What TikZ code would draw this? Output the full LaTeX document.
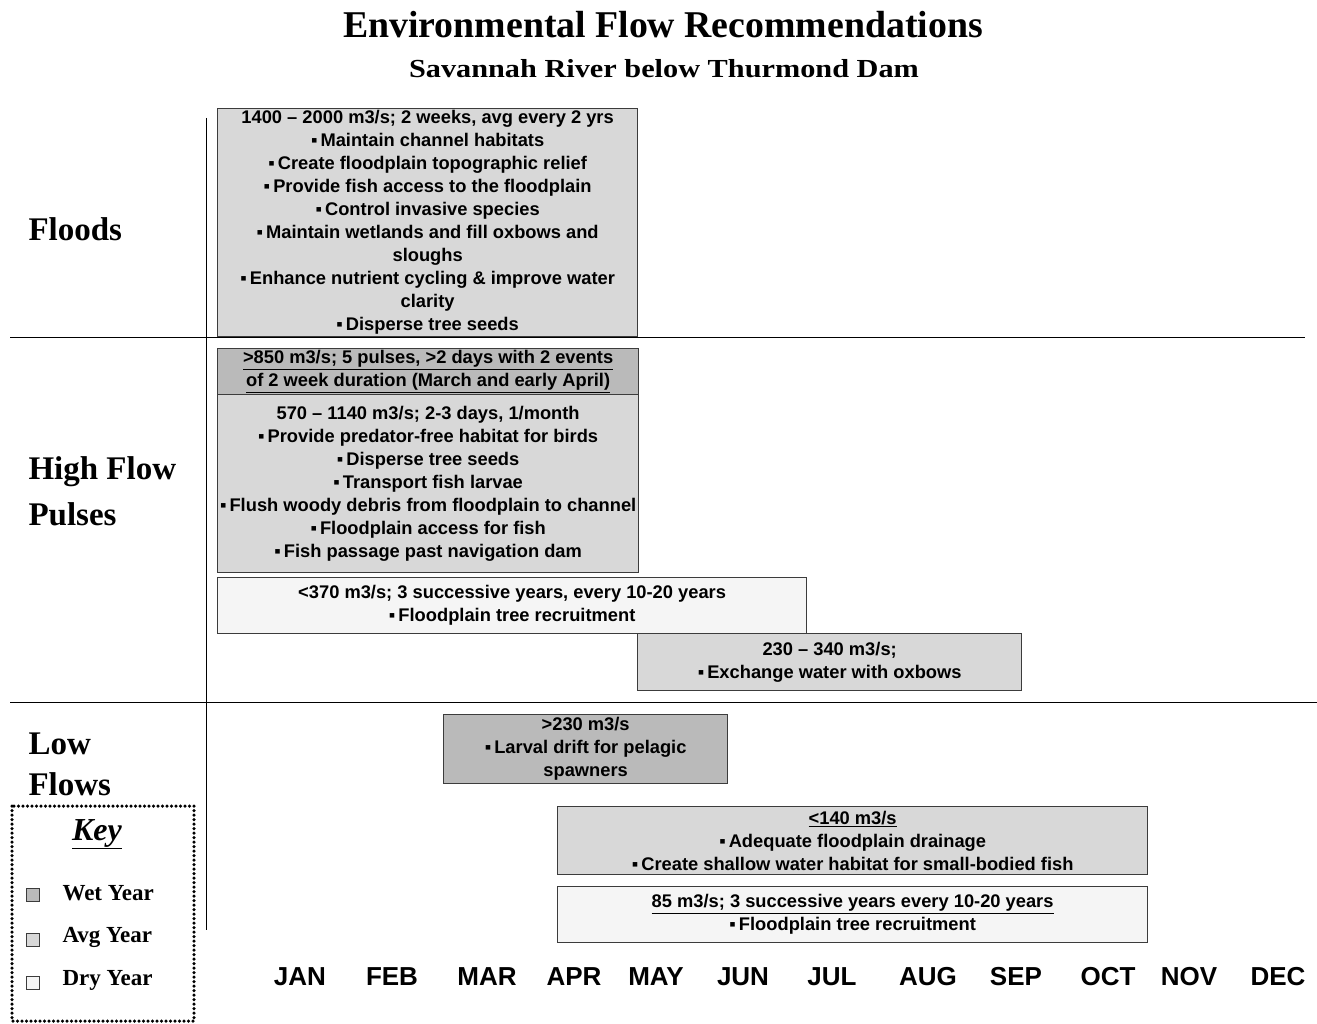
\documentclass[tikz,border=0pt]{standalone}
\usepackage{fontspec}
\setmainfont{Liberation Serif}
\setsansfont{Liberation Sans}
\usepackage{xcolor}
\usepackage{graphicx}
\definecolor{wetgray}{RGB}{186,186,186}
\definecolor{avggray}{RGB}{216,216,216}
\definecolor{drygray}{RGB}{245,245,245}
\definecolor{edgegray}{RGB}{60,60,60}

\begin{document}
\begin{tikzpicture}[x=1pt,y=-1pt]
                \tikzset{%
                    flowbox/.style={draw=edgegray,line width=1.3pt,anchor=north west,
                    inner sep=0pt,align=center,
                    font=\sffamily\bfseries\fontsize{18.3}{23}\selectfont},
                    wet/.style={flowbox,fill=wetgray},
                    avg/.style={flowbox,fill=avggray},
                    dry/.style={flowbox,fill=drygray},
                    rowlabel/.style={anchor=west,align=left,
                    font=\bfseries\fontsize{33}{46}\selectfont},
                    month/.style={font=\sffamily\bfseries\fontsize{26}{30}\selectfont},
                    keysq/.style={draw=edgegray,line width=1pt,minimum size=13pt,inner sep=0pt},
                    keytext/.style={anchor=west,font=\bfseries\fontsize{23}{24}\selectfont}
                        }
            \newcommand\bul{▪\,}
	        {
                \useasboundingbox (0,0) rectangle (1317,1024);
                % titles
                \node[font=\bfseries\fontsize{37.8}{40}\selectfont] (title) at (663,25)
                {Environmental Flow Recommendations};
                \node[font=\bfseries\fontsize{26}{30}\selectfont] (subtitle) at (664,69)
                {\scalebox{1.165}[1]{Savannah River below Thurmond Dam}};
                % grid lines
                \draw[line width=1pt] (206,118) -- (206,930);
                \draw[line width=1pt] (10,337) -- (1305,337);
                \draw[line width=1pt] (10,702) -- (1317,702);
                % row labels
                \node[rowlabel] (floods) at (25,229) {Floods};
                \node[rowlabel] (pulses) at (25,491) {High Flow\\Pulses};
                \node[rowlabel,font=\bfseries\fontsize{33}{41}\selectfont] (low) at (25,764) {Low\\Flows};
                % floods
                \node[avg,minimum width=420,minimum height=228] (flood) at (217,108)
                {1400 – 2000 m3/s; 2 weeks, avg every 2 yrs\\
                \bul Maintain channel habitats\\
                \bul Create floodplain topographic relief\\
                \bul Provide fish access to the floodplain\\
                \bul Control invasive species\\
                \bul Maintain wetlands and fill oxbows and\\
                sloughs\\
                \bul Enhance nutrient cycling \& improve water\\
                clarity\\
                \bul Disperse tree seeds};
                % high flow pulses
                \node[wet,minimum width=421,minimum height=46] (bigpulse) at (217,348)
                {\underline{>850 m3/s; 5 pulses, >2 days with 2 events}\\
                \underline{of 2 week duration (March and early April)}};
                \node[avg,minimum width=421,minimum height=178] (pulse) at (217,394)
                {570 – 1140 m3/s; 2-3 days, 1/month\\
                \bul Provide predator-free habitat for birds\\
                \bul Disperse tree seeds\\
                \bul Transport fish larvae\\
                \bul Flush woody debris from floodplain to channel\\
                \bul Floodplain access for fish\\
                \bul Fish passage past navigation dam};
                \node[dry,minimum width=589,minimum height=56] (drypulse) at (217,577)
                {<370 m3/s; 3 successive years, every 10-20 years\\
                \bul Floodplain tree recruitment};
                \node[avg,minimum width=384,minimum height=57] (oxbow) at (637,633)
                {230 – 340 m3/s;\\
                \bul Exchange water with oxbows};
                % low flows
                \node[wet,minimum width=284,minimum height=69] (larval) at (443,714)
                {>230 m3/s\\
                \bul Larval drift for pelagic\\
                spawners};
                \node[avg,minimum width=590,minimum height=68] (drain) at (557,806)
                {\underline{<140 m3/s}\\
                \bul Adequate floodplain drainage\\
                \bul Create shallow water habitat for small-bodied fish};
                \node[dry,minimum width=590,minimum height=56] (drylow) at (557,886)
                {\underline{85 m3/s; 3 successive years every 10-20 years}\\
                \bul Floodplain tree recruitment};
                % key
                \draw[line width=3.5pt,dash pattern=on 0pt off 4.5pt,line cap=round]
                (12,806) rectangle (194,1021);
                \node[font=\bfseries\itshape\fontsize{32}{34}\selectfont] (key) at (97,834) {\underline{Key}};
                \node[keysq,fill=wetgray] (kwet) at (33,895) {};
                \node[keysq,fill=avggray] (kavg) at (33,940) {};
                \node[keysq,fill=drygray] (kdry) at (33,983) {};
                \node[keytext] (twet) at (59,893) {Wet Year};
                \node[keytext] (tavg) at (59,937) {Avg Year};
                \node[keytext] (tdry) at (59,980) {Dry Year};
                % months
                \foreach \m/\x in {JAN/300,FEB/392,MAR/487,APR/574,MAY/656,JUN/743,
                JUL/832,AUG/928,SEP/1016,OCT/1108,NOV/1189,DEC/1278}
                \node[month] (m-\m) at (\x,977) {\m};
            }
            \end{tikzpicture}
\end{document}
